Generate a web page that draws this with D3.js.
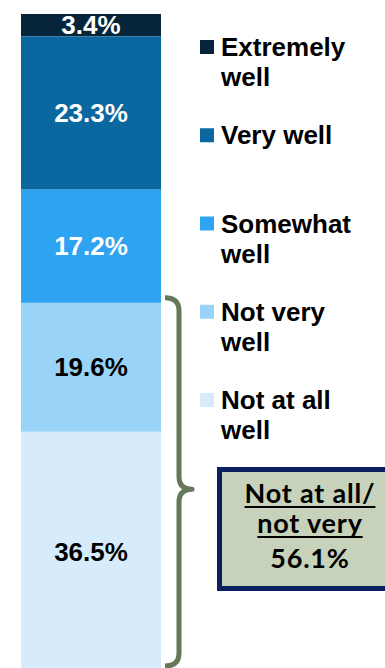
<!DOCTYPE html>
<html><head><meta charset="utf-8">
<script src="https://cdn.jsdelivr.net/npm/d3@7"></script>
<style>html,body{margin:0;padding:0;background:#fff;} svg{display:block}</style>
</head><body><svg id="c" width="385" height="668"></svg>
<script>
// ---- data ----
const categories = ["Extremely well","Very well","Somewhat well","Not very well","Not at all well"];
const legendLines = [["Extremely","well"],["Very well"],["Somewhat","well"],["Not very","well"],["Not at all","well"]];
const values = [3.4, 23.3, 17.2, 19.6, 36.5];
const colors = ["#06243a","#0b67a0","#2ea3f2","#99d3f7","#d6ecfc"];
const labelColors = ["#ffffff","#ffffff","#ffffff","#000000","#000000"];
const groupedCategories = ["Not very well","Not at all well"];
const summaryLines = ["Not at all/","not very"];
const summaryValue = 56.1;

// ---- layout ----
const svg = d3.select("#c");
const x = d3.scaleBand().domain(["All"]).range([21, 161]).padding(0);
const y = d3.scaleLinear().domain([0, 100]).range([14, 672]);
const fmt = v => v.toFixed(1) + "%";

let acc = 0;
const segs = values.map((v, i) => { const s = {cat: categories[i], v, i, y0: acc, y1: acc + v}; acc += v; return s; });

const g = svg.append("g");
g.selectAll("rect.seg").data(segs).join("rect")
  .attr("class", "seg")
  .attr("x", x("All")).attr("width", x.bandwidth())
  .attr("y", d => y(d.y0)).attr("height", d => y(d.y1) - y(d.y0))
  .attr("fill", d => colors[d.i]);

g.selectAll("text.lbl").data(segs).join("text")
  .attr("class", "lbl")
  .attr("x", x("All") + x.bandwidth() / 2)
  .attr("y", d => (y(d.y0) + y(d.y1)) / 2 + 9)
  .attr("text-anchor", "middle")
  .attr("font-family", "'Liberation Sans', Arial, sans-serif")
  .attr("font-weight", "bold")
  .attr("font-size", 26)
  .attr("fill", d => labelColors[d.i])
  .text(d => fmt(d.v));

// ---- legend ----
const leg = svg.append("g");
const legY = d3.scalePoint().domain(categories).range([47, 400]);
const items = leg.selectAll("g").data(categories).join("g")
  .attr("transform", d => `translate(200,${legY(d)})`);
items.append("rect").attr("x", 0).attr("y", -7).attr("width", 14).attr("height", 14)
  .attr("fill", (d, i) => colors[i]);
items.each(function(d, i) {
  const t = d3.select(this).append("text")
    .attr("x", 21).attr("y", 9)
    .attr("font-family", "'Liberation Sans', Arial, sans-serif")
    .attr("font-weight", "bold").attr("font-size", 26).attr("fill", "#000");
  legendLines[i].forEach((ln, k) => {
    t.append("tspan").attr("x", 21).attr("dy", k === 0 ? 0 : 30).text(ln);
  });
});

// ---- brace ----
const gs = segs.filter(s => groupedCategories.includes(s.cat));
const bTop = y(d3.min(gs, s => s.y0)) - 5;
const bBot = y(d3.max(gs, s => s.y1)) - 6;
const bMid = bTop + (bBot - bTop) * 0.52;
const bx = 179, bl = 165, bt = 192, r = 13;
const p = d3.path();
p.moveTo(bl, bTop);
p.quadraticCurveTo(bx, bTop, bx, bTop + r);
p.lineTo(bx, bMid - r);
p.quadraticCurveTo(bx, bMid, bt, bMid);
p.quadraticCurveTo(bx, bMid, bx, bMid + r);
p.lineTo(bx, bBot - r);
p.quadraticCurveTo(bx, bBot, bl, bBot);
svg.append("path").attr("d", p.toString())
  .attr("fill", "none").attr("stroke", "#66785a").attr("stroke-width", 5)
  .attr("stroke-linejoin", "round");

// ---- summary box ----
const box = svg.append("g");
box.append("rect").attr("x", 219.5).attr("y", 469.5).attr("width", 190).attr("height", 119)
  .attr("fill", "#c6d2b9").attr("stroke", "#0b215f").attr("stroke-width", 5);
const cx = 310;
const baselines = [503, 533];
summaryLines.forEach((ln, k) => {
  const t = box.append("text").attr("x", cx).attr("y", baselines[k])
    .attr("text-anchor", "middle")
    .attr("font-family", "Lato, 'Open Sans', sans-serif")
    .attr("font-weight", "bold").attr("font-size", 27).attr("letter-spacing", 0.8).attr("fill", "#000")
    .text(ln);
  const w = t.node().getComputedTextLength();
  box.append("line").attr("x1", cx - w / 2).attr("x2", cx + w / 2)
    .attr("y1", baselines[k] + 4).attr("y2", baselines[k] + 4)
    .attr("stroke", "#000").attr("stroke-width", 2);
});
box.append("text").attr("x", cx).attr("y", 568)
  .attr("text-anchor", "middle")
  .attr("font-family", "Lato, 'Open Sans', sans-serif")
  .attr("font-weight", "bold").attr("font-size", 27).attr("letter-spacing", 0.8).attr("fill", "#000")
  .text(fmt(summaryValue));
</script></body></html>
